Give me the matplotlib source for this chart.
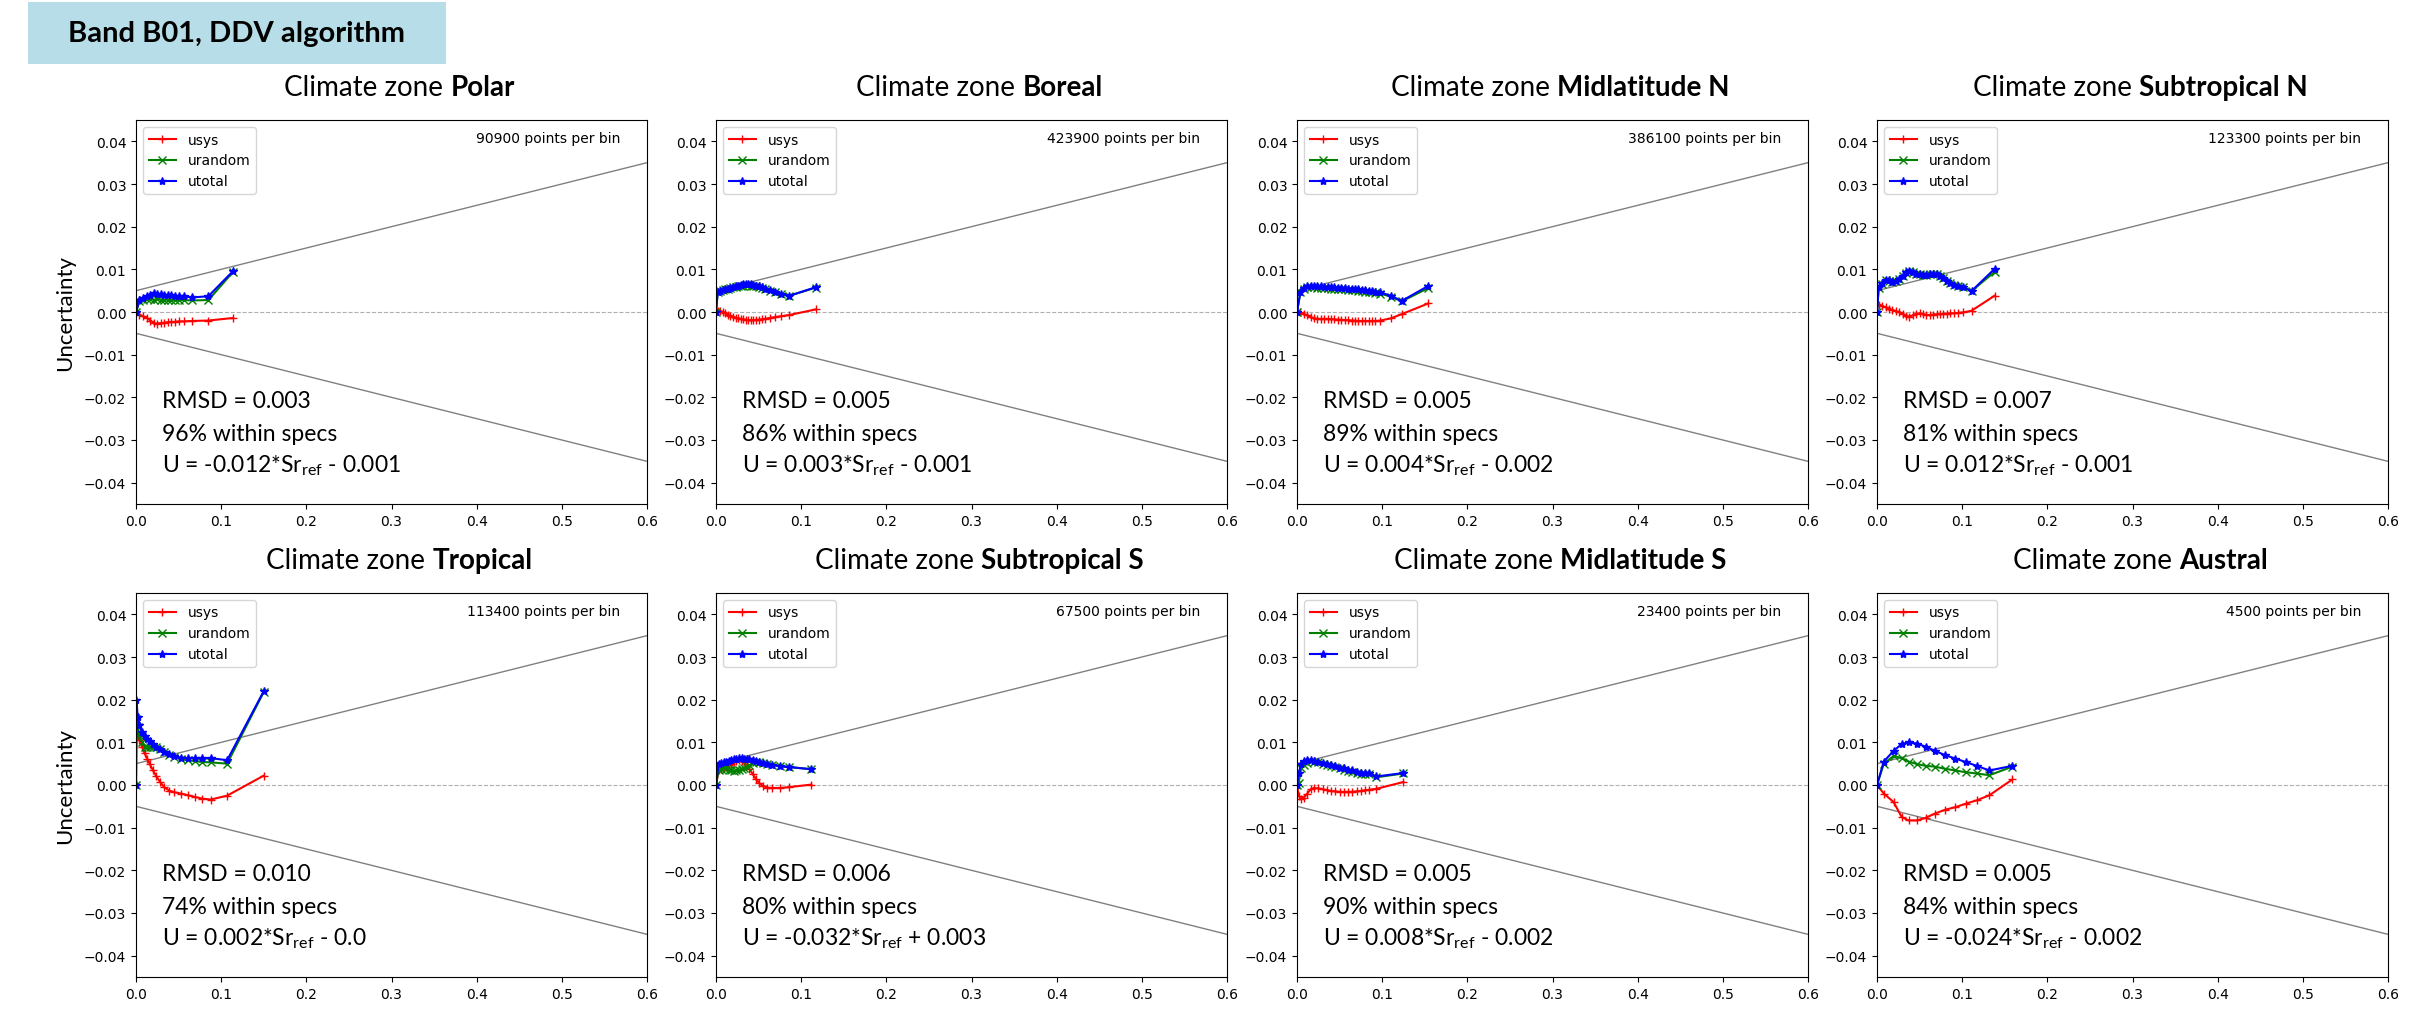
import matplotlib
matplotlib.use('Agg')
import matplotlib.pyplot as plt
from matplotlib.patches import Rectangle

plt.rcParams['mathtext.fontset'] = 'custom'
plt.rcParams['mathtext.rm'] = 'Lato'
plt.rcParams['font.size'] = 10

# ---------------- data ----------------
zones = ['Polar', 'Boreal', 'Midlatitude N', 'Subtropical N',
         'Tropical', 'Subtropical S', 'Midlatitude S', 'Austral']
points_per_bin = [90900, 423900, 386100, 123300, 113400, 67500, 23400, 4500]
rmsd = ['0.003', '0.005', '0.005', '0.007', '0.010', '0.006', '0.005', '0.005']
within = [96, 86, 89, 81, 74, 80, 90, 84]
fit_slope = ['-0.012', '0.003', '0.004', '0.012', '0.002', '-0.032', '0.008', '-0.024']
fit_icpt = ['- 0.001', '- 0.001', '- 0.002', '- 0.001', '- 0.0', '+ 0.003', '- 0.002', '- 0.002']

x_polar = [0.0, 0.004, 0.008, 0.013, 0.017, 0.021, 0.025, 0.029, 0.033, 0.037, 0.041, 0.046, 0.050, 0.056, 0.066, 0.085, 0.114]
usys_polar = [0.0, -0.0006, -0.0010, -0.0014, -0.0020, -0.0026, -0.0027, -0.0026, -0.0025, -0.0024, -0.0023, -0.0023, -0.0022, -0.0022, -0.0021, -0.0020, -0.0014]
urandom_polar = [0.0, 0.0025, 0.0028, 0.0030, 0.0030, 0.0029, 0.0030, 0.0029, 0.0028, 0.0029, 0.0028, 0.0029, 0.0028, 0.0028, 0.0027, 0.0028, 0.0094]
utotal_polar = [0.0, 0.0027, 0.0033, 0.0037, 0.0041, 0.0044, 0.0043, 0.0042, 0.0040, 0.0040, 0.0039, 0.0038, 0.0037, 0.0037, 0.0034, 0.0037, 0.0096]

x_boreal = [0.0, 0.002, 0.005, 0.008, 0.011, 0.014, 0.017, 0.020, 0.023, 0.026, 0.029, 0.032, 0.035, 0.038, 0.041, 0.044, 0.047, 0.050, 0.054, 0.058, 0.063, 0.069, 0.076, 0.086, 0.117]
usys_boreal = [0.0, 0.0003, 0.0002, 0.0, -0.0003, -0.0006, -0.0009, -0.0011, -0.0013, -0.0015, -0.0016, -0.0017, -0.0018, -0.0019, -0.0019, -0.0019, -0.0018, -0.0018, -0.0017, -0.0016, -0.0014, -0.0012, -0.0010, -0.0007, 0.0006]
urandom_boreal = [0.0, 0.0046, 0.0049, 0.0051, 0.0053, 0.0055, 0.0056, 0.0058, 0.0059, 0.0060, 0.0061, 0.0062, 0.0063, 0.0063, 0.0062, 0.0061, 0.0060, 0.0059, 0.0056, 0.0054, 0.0050, 0.0046, 0.0042, 0.0038, 0.0057]
utotal_boreal = [0.0, 0.0046, 0.0049, 0.0051, 0.0053, 0.0055, 0.0057, 0.0059, 0.0061, 0.0062, 0.0064, 0.0065, 0.0066, 0.0066, 0.0065, 0.0064, 0.0062, 0.0061, 0.0058, 0.0055, 0.0051, 0.0047, 0.0043, 0.0038, 0.0058]

x_midn = [0.0, 0.004, 0.008, 0.012, 0.016, 0.020, 0.024, 0.028, 0.032, 0.036, 0.040, 0.044, 0.048, 0.052, 0.056, 0.060, 0.064, 0.068, 0.072, 0.076, 0.080, 0.084, 0.088, 0.092, 0.098, 0.110, 0.123, 0.154]
usys_midn = [0.0, -0.0001, -0.0004, -0.0008, -0.0012, -0.0015, -0.0016, -0.0016, -0.0016, -0.0016, -0.0017, -0.0017, -0.0018, -0.0018, -0.0019, -0.0019, -0.0020, -0.0020, -0.0021, -0.0021, -0.0021, -0.0021, -0.0021, -0.0021, -0.0020, -0.0015, -0.0005, 0.0020]
urandom_midn = [0.0, 0.0046, 0.0055, 0.0058, 0.0058, 0.0058, 0.0057, 0.0057, 0.0056, 0.0056, 0.0055, 0.0055, 0.0054, 0.0054, 0.0053, 0.0052, 0.0052, 0.0051, 0.0050, 0.0049, 0.0048, 0.0047, 0.0046, 0.0045, 0.0043, 0.0036, 0.0025, 0.0056]
utotal_midn = [0.0, 0.0047, 0.0057, 0.0060, 0.0061, 0.0061, 0.0060, 0.0060, 0.0059, 0.0059, 0.0058, 0.0058, 0.0057, 0.0057, 0.0056, 0.0055, 0.0055, 0.0054, 0.0053, 0.0052, 0.0051, 0.0050, 0.0049, 0.0048, 0.0046, 0.0038, 0.0026, 0.0061]

x_subn = [0.0, 0.002, 0.006, 0.010, 0.014, 0.018, 0.022, 0.026, 0.030, 0.034, 0.038, 0.042, 0.046, 0.050, 0.054, 0.058, 0.062, 0.066, 0.070, 0.074, 0.078, 0.082, 0.086, 0.090, 0.095, 0.101, 0.111, 0.138]
usys_subn = [0.0018, 0.0017, 0.0014, 0.0011, 0.0008, 0.0005, 0.0002, 0.0, -0.0004, -0.0009, -0.0011, -0.0008, -0.0004, -0.0003, -0.0005, -0.0007, -0.0007, -0.0006, -0.0005, -0.0005, -0.0004, -0.0004, -0.0003, -0.0003, -0.0002, -0.0001, 0.0003, 0.0038]
urandom_subn = [0.0, 0.0056, 0.0066, 0.0075, 0.0073, 0.0071, 0.0072, 0.0078, 0.0085, 0.0092, 0.0096, 0.0094, 0.0090, 0.0088, 0.0087, 0.0087, 0.0088, 0.0089, 0.0088, 0.0085, 0.0080, 0.0072, 0.0067, 0.0063, 0.0060, 0.0059, 0.0049, 0.0094]
utotal_subn = [0.0, 0.0059, 0.0068, 0.0076, 0.0074, 0.0071, 0.0072, 0.0078, 0.0085, 0.0093, 0.0097, 0.0094, 0.0090, 0.0088, 0.0087, 0.0087, 0.0088, 0.0089, 0.0088, 0.0085, 0.0080, 0.0072, 0.0067, 0.0063, 0.0060, 0.0059, 0.0049, 0.0101]

x_trop = [0.0, 0.0005, 0.002, 0.004, 0.007, 0.010, 0.013, 0.016, 0.020, 0.024, 0.028, 0.033, 0.039, 0.045, 0.053, 0.061, 0.069, 0.078, 0.088, 0.107, 0.150]
usys_trop = [0.0, 0.0125, 0.0115, 0.0105, 0.0090, 0.0075, 0.0062, 0.0050, 0.0034, 0.0020, 0.0008, -0.0005, -0.0013, -0.0017, -0.0020, -0.0024, -0.0028, -0.0032, -0.0034, -0.0025, 0.0022]
urandom_trop = [0.0, 0.0155, 0.0135, 0.0118, 0.0100, 0.0090, 0.0088, 0.0088, 0.0089, 0.0088, 0.0084, 0.0078, 0.0071, 0.0065, 0.0060, 0.0058, 0.0056, 0.0054, 0.0053, 0.0050, 0.0218]
utotal_trop = [0.0, 0.0200, 0.0160, 0.0140, 0.0125, 0.0115, 0.0108, 0.0102, 0.0096, 0.0090, 0.0085, 0.0078, 0.0072, 0.0067, 0.0064, 0.0063, 0.0063, 0.0063, 0.0063, 0.0058, 0.0220]

x_subs = [0.0, 0.003, 0.006, 0.009, 0.012, 0.015, 0.018, 0.021, 0.024, 0.027, 0.030, 0.033, 0.036, 0.039, 0.043, 0.047, 0.051, 0.055, 0.060, 0.066, 0.075, 0.086, 0.112]
usys_subs = [0.0, 0.0035, 0.0038, 0.0040, 0.0043, 0.0046, 0.0050, 0.0053, 0.0056, 0.0058, 0.0057, 0.0053, 0.0046, 0.0038, 0.0026, 0.0014, 0.0004, -0.0002, -0.0006, -0.0007, -0.0007, -0.0005, 0.0001]
urandom_subs = [0.0, 0.0035, 0.0038, 0.0040, 0.0038, 0.0036, 0.0034, 0.0033, 0.0035, 0.0036, 0.0037, 0.0040, 0.0043, 0.0046, 0.0051, 0.0054, 0.0054, 0.0052, 0.0050, 0.0047, 0.0044, 0.0042, 0.0037]
utotal_subs = [0.0, 0.0050, 0.0052, 0.0053, 0.0055, 0.0057, 0.0058, 0.0060, 0.0062, 0.0063, 0.0063, 0.0062, 0.0062, 0.0060, 0.0058, 0.0056, 0.0054, 0.0052, 0.0050, 0.0047, 0.0044, 0.0042, 0.0037]

x_mids = [0.0, 0.002, 0.005, 0.008, 0.012, 0.016, 0.020, 0.025, 0.030, 0.035, 0.040, 0.045, 0.050, 0.055, 0.060, 0.065, 0.070, 0.075, 0.080, 0.085, 0.093, 0.125]
usys_mids = [0.0, -0.0025, -0.0032, -0.0030, -0.0020, -0.0010, -0.0007, -0.0008, -0.0010, -0.0012, -0.0014, -0.0015, -0.0016, -0.0016, -0.0016, -0.0016, -0.0015, -0.0014, -0.0012, -0.0011, -0.0009, 0.0007]
urandom_mids = [0.0, 0.0005, 0.0040, 0.0046, 0.0052, 0.0056, 0.0055, 0.0053, 0.0050, 0.0047, 0.0045, 0.0042, 0.0039, 0.0036, 0.0033, 0.0031, 0.0028, 0.0026, 0.0025, 0.0025, 0.0018, 0.0027]
utotal_mids = [0.0, 0.0027, 0.0050, 0.0057, 0.0059, 0.0058, 0.0056, 0.0054, 0.0051, 0.0049, 0.0047, 0.0044, 0.0041, 0.0039, 0.0036, 0.0034, 0.0031, 0.0029, 0.0028, 0.0027, 0.0020, 0.0028]

x_austral = [0.0, 0.008, 0.0195, 0.029, 0.037, 0.047, 0.057, 0.068, 0.080, 0.092, 0.104, 0.117, 0.132, 0.159]
usys_austral = [0.0, -0.0020, -0.0040, -0.0075, -0.0083, -0.0083, -0.0077, -0.0067, -0.0058, -0.0052, -0.0044, -0.0036, -0.0024, 0.0013]
urandom_austral = [0.0, 0.0050, 0.0068, 0.0063, 0.0055, 0.0049, 0.0045, 0.0043, 0.0038, 0.0034, 0.0030, 0.0027, 0.0023, 0.0043]
utotal_austral = [0.0, 0.0055, 0.0080, 0.0096, 0.0100, 0.0097, 0.0090, 0.0080, 0.0070, 0.0062, 0.0054, 0.0045, 0.0034, 0.0045]

curves = [
    (x_polar, usys_polar, urandom_polar, utotal_polar),
    (x_boreal, usys_boreal, urandom_boreal, utotal_boreal),
    (x_midn, usys_midn, urandom_midn, utotal_midn),
    (x_subn, usys_subn, urandom_subn, utotal_subn),
    (x_trop, usys_trop, urandom_trop, utotal_trop),
    (x_subs, usys_subs, urandom_subs, utotal_subs),
    (x_mids, usys_mids, urandom_mids, utotal_mids),
    (x_austral, usys_austral, urandom_austral, utotal_austral),
]

# spec envelope: |U| <= 0.005 + 0.05*Sr
spec_x = [0.0, 0.6]
spec_up = [0.005, 0.035]
spec_lo = [-0.005, -0.035]

# ---------------- layout (pixels) ----------------
W, H = 2426, 1012
fig = plt.figure(figsize=(W / 100, H / 100), dpi=100)
r = fig.canvas.get_renderer()

col_x0 = [136, 716, 1297, 1877]
row_top = [121, 594]
title_base = [96, 569]
ax_w, ax_h = 511, 384
TS = 20      # zone title size
PS = 16.5    # in-panel stats size


def zone_title(cx, base, name):
    t1 = fig.text(0, 1 - base / H, 'Climate zone', fontsize=TS, family='Lato', va='baseline')
    t2 = fig.text(0, 1 - base / H, name, fontsize=TS, family='Lato', weight='bold', va='baseline')
    w1 = t1.get_window_extent(r).width
    w2 = t2.get_window_extent(r).width
    gap = 0.26 * TS * 100 / 72
    left = cx - (w1 + gap + w2) / 2
    t1.set_x(left / W)
    t2.set_x((left + w1 + gap) / W)


# header box
fig.add_artist(Rectangle((28 / W, 1 - 65 / H), 418 / W, 62 / H, transform=fig.transFigure,
                         facecolor='#b7dee8', edgecolor='none'))
fig.text(237 / W, 1 - 34 / H, 'Band B01, DDV algorithm', fontsize=21, family='Lato',
         weight='bold', ha='center', va='center')

for i, zone in enumerate(zones):
    row, col = divmod(i, 4)
    x0, top = col_x0[col], row_top[row]
    ax = fig.add_axes([x0 / W, 1 - (top + ax_h) / H, ax_w / W, ax_h / H])
    xs, us, ur, ut = curves[i]

    ax.plot(spec_x, spec_up, color='grey', lw=1)
    ax.plot(spec_x, spec_lo, color='grey', lw=1)
    ax.axhline(0, color='#b0b0b0', ls='--', lw=0.8)
    ax.plot(xs, us, color='r', marker='+', label='usys')
    ax.plot(xs, ur, color='g', marker='x', label='urandom')
    ax.plot(xs, ut, color='b', marker='*', label='utotal')

    ax.set_xlim(0, 0.6)
    ax.set_ylim(-0.045, 0.045)
    ax.set_xticks([0.0, 0.1, 0.2, 0.3, 0.4, 0.5, 0.6])
    ax.set_yticks([-0.04, -0.03, -0.02, -0.01, 0.0, 0.01, 0.02, 0.03, 0.04])
    ax.legend(loc='upper left', fontsize=10)
    ax.text(0.947, 0.953, f'{points_per_bin[i]} points per bin', transform=ax.transAxes,
            ha='right', va='center', fontsize=10)

    ax.text(0.05, 0.253, f'RMSD = {rmsd[i]}', transform=ax.transAxes,
            fontsize=PS, family='Lato', va='baseline')
    ax.text(0.05, 0.167, f'{within[i]}% within specs', transform=ax.transAxes,
            fontsize=PS, family='Lato', va='baseline')
    ax.text(0.05, 0.086, f'U = {fit_slope[i]}*Sr$_{{\\mathrm{{ref}}}}$ {fit_icpt[i]}',
            transform=ax.transAxes, fontsize=PS, family='Lato', va='baseline')

    zone_title(x0 + ax_w / 2 + 8, title_base[row], zone)

    if col == 0:
        fig.text(65 / W, 1 - (top + ax_h / 2) / H, 'Uncertainty', fontsize=16, family='Lato',
                 rotation=90, ha='center', va='center')

fig.savefig('out.png', dpi=100)
